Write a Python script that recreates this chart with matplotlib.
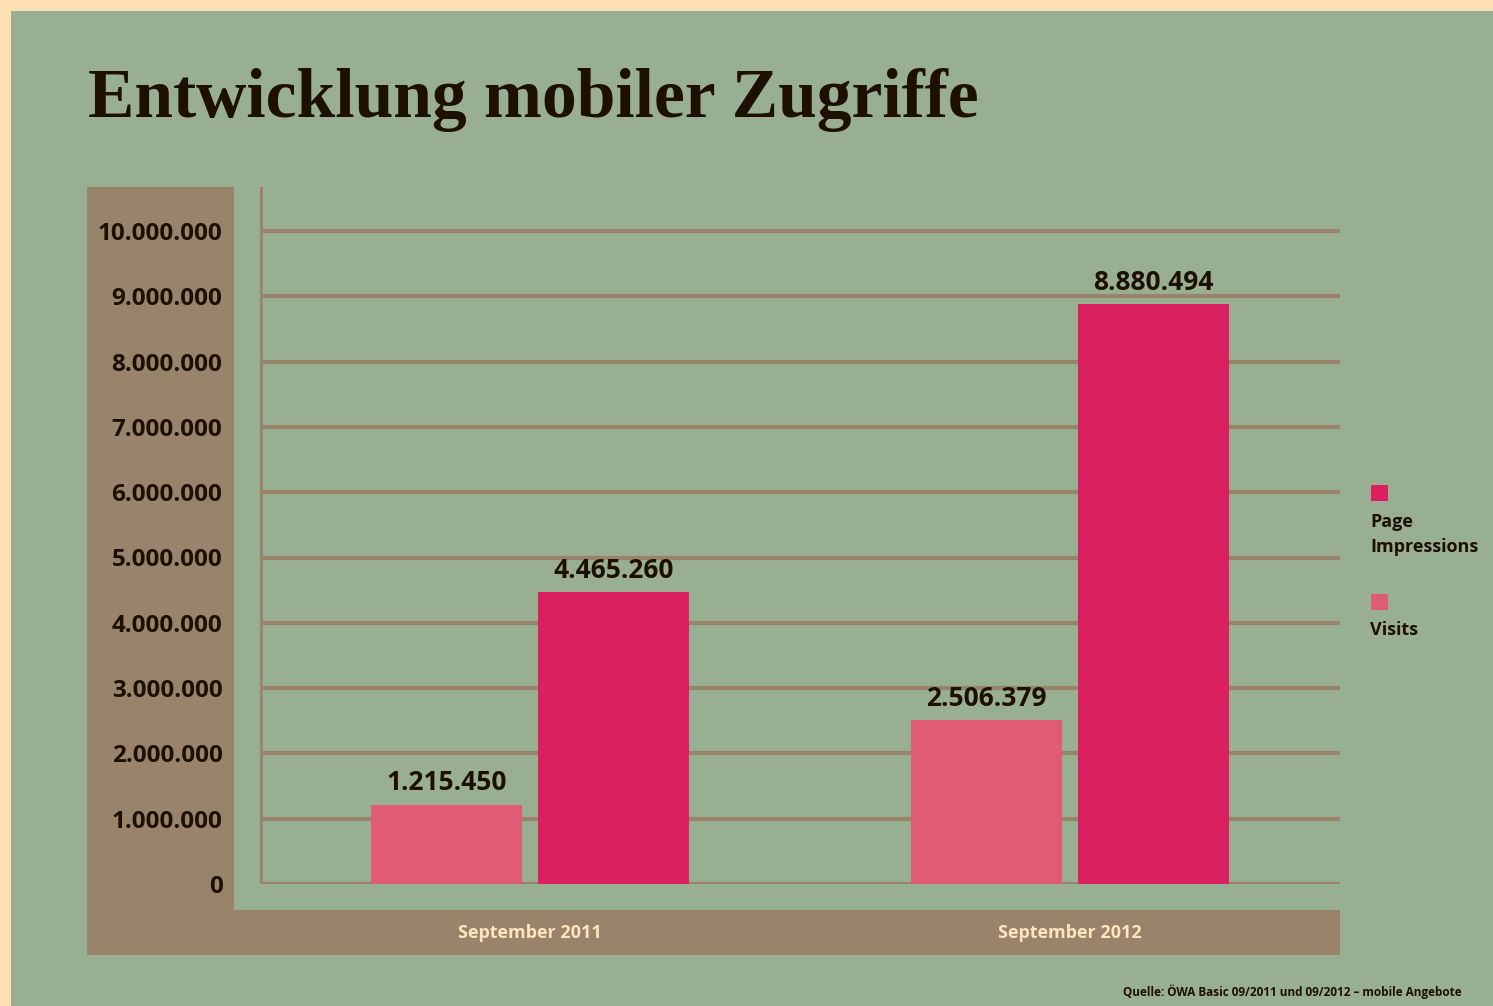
import matplotlib
matplotlib.use("Agg")
import matplotlib.pyplot as plt
from matplotlib.patches import Rectangle
import numpy as np

categories = ["September 2011", "September 2012"]
visits = [1215450, 2506379]
page_impressions = [4465260, 8880494]
y_ticks = [0, 1000000, 2000000, 3000000, 4000000, 5000000, 6000000, 7000000, 8000000, 9000000, 10000000]
title = "Entwicklung mobiler Zugriffe"
source = "Quelle: ÖWA Basic 09/2011 und 09/2012 – mobile Angebote"

def fmt(v):
    return f"{v:,}".replace(",", ".")

BEIGE = "#FFE0B5"
GREEN = "#99AF91"
BROWN = "#99846B"
DARK = "#1E1000"
PI_COL = "#DA2060"
VIS_COL = "#DF5C74"
CREAM = "#FFE3BE"
SANS = ["Open Sans", "DejaVu Sans"]

W, H = 1493, 1006
fig = plt.figure(figsize=(W / 100, H / 100), dpi=100)
fig.patch.set_facecolor(BEIGE)

def px_rect(x0, y0, x1, y1, color, z=0):
    fig.patches.append(Rectangle((x0 / W, 1 - y1 / H), (x1 - x0) / W, (y1 - y0) / H,
                                 transform=fig.transFigure, facecolor=color,
                                 edgecolor="none", zorder=z))

px_rect(11, 11, W, H, GREEN, z=0)
px_rect(87, 187, 234, 910, BROWN, z=1)
px_rect(87, 910, 1340, 955, BROWN, z=1)

ax = fig.add_axes([260 / W, 1 - 884 / H, 1080 / W, 697 / H])
ax.set_zorder(5)
ax.set_facecolor("none")
ax.set_xlim(0, 2)
ymax = 10000000 * 697 / 653
ax.set_ylim(0, ymax)

x = np.array([0.5, 1.5])
width = 0.28
off = 0.155
ax.bar(x - off, visits, width, color=VIS_COL, zorder=3)
ax.bar(x + off, page_impressions, width, color=PI_COL, zorder=3)

for xi, v in zip(x - off, visits):
    ax.text(xi, v + 0.22e6, fmt(v), ha="center", va="baseline", fontsize=19,
            fontweight="bold", color=DARK, family=SANS)
for xi, v in zip(x + off, page_impressions):
    ax.text(xi, v + 0.22e6, fmt(v), ha="center", va="baseline", fontsize=19,
            fontweight="bold", color=DARK, family=SANS)

for t in y_ticks:
    ax.axhline(t, color=BROWN, lw=3.0, zorder=2, solid_capstyle="butt")
ax.axvline(0, color=BROWN, lw=3.4, zorder=2)

for s in ax.spines.values():
    s.set_visible(False)
ax.set_yticks(y_ticks)
ax.set_yticklabels([fmt(t) for t in y_ticks], fontsize=17.5, fontweight="bold",
                   color=DARK, family=SANS)
ax.tick_params(axis="y", length=0, pad=27)
ax.set_xticks([])

for xi, c in zip(x, categories):
    ax.text(xi, 1 - (933 - 187) / 697, c, transform=ax.get_xaxis_transform(),
            ha="center", va="center", fontsize=13, fontweight="bold", color=CREAM,
            family=SANS, clip_on=False)

# legend
px_rect(1371, 485, 1388, 501, PI_COL, z=2)
px_rect(1371, 594, 1388, 610, VIS_COL, z=2)
fig.text(1370 / W, 1 - 522 / H, "Page", ha="left", va="center", fontsize=13,
         fontweight="bold", color=DARK, family=SANS)
fig.text(1370 / W, 1 - 547 / H, "Impressions", ha="left", va="center", fontsize=13,
         fontweight="bold", color=DARK, family=SANS)
fig.text(1370 / W, 1 - 630 / H, "Visits", ha="left", va="center", fontsize=13,
         fontweight="bold", color=DARK, family=SANS)

fig.text(88 / W, 1 - 117 / H, title, ha="left", va="baseline", fontsize=50,
         fontweight="bold", color=DARK, family=["Liberation Serif", "DejaVu Serif"])
fig.text(1462 / W, 1 - 992 / H, source, ha="right", va="center", fontsize=8.5,
         fontweight="bold", color=DARK, family=SANS)

fig.savefig("out.png", dpi=100, facecolor=BEIGE)
